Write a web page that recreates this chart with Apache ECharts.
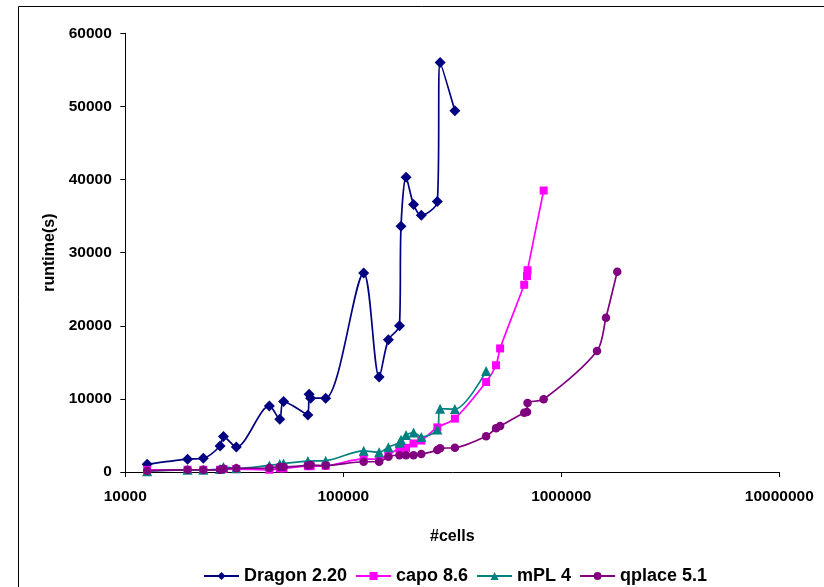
<!DOCTYPE html>
<html>
<head>
<meta charset="utf-8">
<title>Placement runtime vs. design size</title>
<script src="https://cdn.jsdelivr.net/npm/echarts@6/dist/echarts.min.js"></script>
<style>
  html, body { margin: 0; padding: 0; background: #ffffff; }
  #chart { width: 824px; height: 587px; }
</style>
</head>
<body>
<div id="chart"></div>
<script>
// Runtime (seconds) of four placers against the number of cells in the design.
const dragonCells = [12600, 19300, 22800, 27200, 28200, 32300, 45800, 51100, 53200, 68800, 69700, 70800, 83000,
  124000, 146000, 161000, 181000, 184000, 194000, 210000, 228000, 270000, 278000, 325000];
const dragonRuntime = [1050, 1750, 1880, 3560, 4840, 3420, 9040, 7210, 9630, 7800, 10650, 10100, 10100,
  27200, 13000, 18100, 20000, 33600, 40300, 36600, 35100, 37000, 56000, 49400];

const capoCells = [12600, 19300, 22800, 27200, 28200, 32300, 45800, 51100, 53200, 68800, 70800, 83000,
  124000, 146000, 161000, 181000, 194000, 210000, 228000, 270000, 325000, 452000, 502000, 524000,
  676000, 696000, 700000, 830000];
const capoRuntime = [300, 300, 300, 300, 400, 400, 300, 500, 500, 800, 800, 850,
  1800, 1700, 2400, 3200, 3300, 3900, 4300, 6100, 7300, 12300, 14600, 16900,
  25600, 26800, 27600, 38500];

const mplCells = [12600, 19300, 22800, 27200, 28200, 32300, 45800, 51100, 53200, 68800, 83000,
  124000, 146000, 161000, 181000, 184000, 194000, 210000, 228000, 270000, 278000, 325000, 452000];
const mplRuntime = [100, 300, 300, 400, 700, 500, 900, 1100, 1150, 1500, 1550,
  2900, 2700, 3400, 4000, 4400, 5050, 5400, 4800, 5800, 8650, 8600, 13800];

const qplaceCells = [12600, 19300, 22800, 27200, 28200, 32300, 45800, 51100, 53200, 68800, 70800, 83000,
  124000, 146000, 161000, 181000, 194000, 210000, 228000, 270000, 278000, 325000, 452000, 502000, 524000,
  676000, 696000, 700000, 830000, 1458000, 1603000, 1806000];
const qplaceRuntime = [180, 300, 300, 300, 450, 500, 550, 700, 700, 900, 950, 880,
  1400, 1400, 2100, 2300, 2300, 2300, 2450, 3000, 3250, 3320, 4900, 6000, 6300,
  8100, 8200, 9450, 9950, 16550, 21100, 27400];

const seriesNames = ['Dragon 2.20', 'capo 8.6', 'mPL 4', 'qplace 5.1'];
const xTicks = [10000, 100000, 1000000, 10000000];
const yTicks = [0, 10000, 20000, 30000, 40000, 50000, 60000];

const pairs = (xs, ys) => xs.map((x, i) => [x, ys[i]]);

const chart = echarts.init(document.getElementById('chart'), null, { renderer: 'canvas' });
const font = 'Liberation Sans, Arial, Helvetica, sans-serif';

function lineSeries(name, data, color, symbol, size) {
  return {
    name: name,
    type: 'line',
    data: data,
    smooth: 0.3,
    symbol: symbol,
    symbolSize: size,
    showAllSymbol: true,
    lineStyle: { color: color, width: 1.7 },
    itemStyle: { color: color, borderWidth: 0 },
    emphasis: { disabled: true },
    animation: false
  };
}

chart.setOption({
  backgroundColor: '#ffffff',
  animation: false,
  grid: { left: 125.3, right: 44.7, top: 33.3, bottom: 115, containLabel: false },
  legend: {
    data: seriesNames,
    left: 198,
    top: 562,
    itemWidth: 35,
    itemHeight: 10,
    itemGap: 8,
    textStyle: { fontFamily: font, fontSize: 18, fontWeight: 'bold', color: '#000000' }
  },
  xAxis: {
    type: 'log',
    logBase: 10,
    min: xTicks[0],
    max: xTicks[xTicks.length - 1],
    name: '#cells',
    nameLocation: 'middle',
    nameGap: 57,
    nameTextStyle: { fontFamily: font, fontSize: 16, fontWeight: 'bold', color: '#000000' },
    axisLine: { show: true, onZero: false, lineStyle: { color: '#000000', width: 1 } },
    axisTick: { show: true, inside: false, length: 5, lineStyle: { color: '#000000' } },
    minorTick: { show: false },
    splitLine: { show: false },
    axisLabel: {
      margin: 17,
      fontFamily: font, fontSize: 15.5, fontWeight: 'bold', color: '#000000',
      formatter: v => String(Math.round(v))
    }
  },
  yAxis: {
    type: 'value',
    min: yTicks[0],
    max: yTicks[yTicks.length - 1],
    interval: yTicks[1] - yTicks[0],
    name: 'runtime(s)',
    nameLocation: 'middle',
    nameGap: 66,
    nameTextStyle: { fontFamily: font, fontSize: 16, fontWeight: 'bold', color: '#000000' },
    axisLine: { show: true, lineStyle: { color: '#000000', width: 1 } },
    axisTick: { show: true, inside: false, length: 5, lineStyle: { color: '#000000' } },
    splitLine: { show: false },
    axisLabel: {
      margin: 13.5,
      fontFamily: font, fontSize: 15.5, fontWeight: 'bold', color: '#000000',
      formatter: v => String(v)
    }
  },
  graphic: [
    { type: 'line', shape: { x1: 18.5, y1: 6.5, x2: 824, y2: 6.5 }, style: { stroke: '#000000', lineWidth: 1 }, silent: true },
    { type: 'line', shape: { x1: 18.5, y1: 6.5, x2: 18.5, y2: 587 }, style: { stroke: '#000000', lineWidth: 1 }, silent: true }
  ],
  series: [
    lineSeries(seriesNames[0], pairs(dragonCells, dragonRuntime), '#000080', 'diamond', 11),
    lineSeries(seriesNames[1], pairs(capoCells, capoRuntime), '#FF00FF', 'rect', 8),
    lineSeries(seriesNames[2], pairs(mplCells, mplRuntime), '#008080', 'triangle', 10),
    lineSeries(seriesNames[3], pairs(qplaceCells, qplaceRuntime), '#800080', 'circle', 8.5)
  ]
});
</script>
</body>
</html>
